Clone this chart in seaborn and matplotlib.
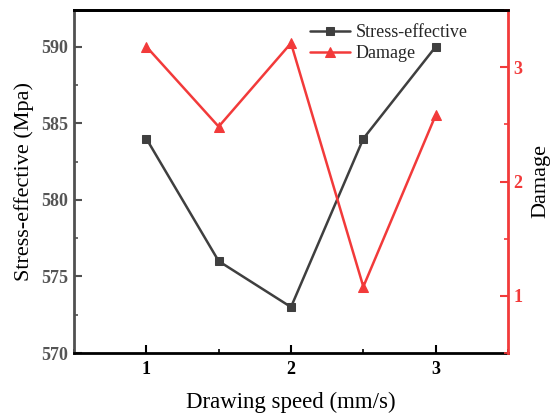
import matplotlib
matplotlib.use("Agg")
import matplotlib.pyplot as plt
from matplotlib.ticker import MultipleLocator
import seaborn as sns
import pandas as pd

speed = [1.0, 1.5, 2.0, 2.5, 3.0]
stress = [584, 576, 573, 584, 590]
damage = [3.18, 2.48, 3.21, 1.08, 2.58]

sns.set_theme(style="ticks")
plt.rcParams["font.family"] = ["Liberation Serif", "DejaVu Serif"]
plt.rcParams["xtick.direction"] = "in"
plt.rcParams["ytick.direction"] = "in"

GRAY = "#3f3f3f"
RED = "#f23a3a"

df = pd.DataFrame({"speed": speed, "stress": stress, "damage": damage})

fig = plt.figure(figsize=(5.5, 4.16), dpi=100)
ax = fig.add_axes([74 / 550, 1 - 353 / 416, (508 - 74) / 550, (353 - 10) / 416])
ax2 = ax.twinx()

sns.lineplot(data=df, x="speed", y="stress", ax=ax, color=GRAY, marker="s",
             markersize=6, markeredgecolor=GRAY, linewidth=1.8, label="Stress-effective",
             legend=False)
sns.lineplot(data=df, x="speed", y="damage", ax=ax2, color=RED, marker="^",
             markersize=7.5, markeredgecolor=RED, linewidth=1.8, label="Damage",
             legend=False)

ax.set_xlim(0.5, 3.5)
ax.set_ylim(570, 592.4)
ax2.set_ylim(0.5, 3.5)

ax.xaxis.set_major_locator(MultipleLocator(1))
ax.xaxis.set_minor_locator(MultipleLocator(0.5))
ax.yaxis.set_major_locator(MultipleLocator(5))
ax.yaxis.set_minor_locator(MultipleLocator(2.5))
ax2.yaxis.set_major_locator(MultipleLocator(1))
ax2.yaxis.set_minor_locator(MultipleLocator(0.5))

ax.set_xlabel("Drawing speed (mm/s)", fontsize=16.5, color="black", labelpad=10)
ax.set_ylabel("Stress-effective (Mpa)", fontsize=16, color="black", labelpad=5)
ax2.set_ylabel("Damage", fontsize=16, color="black", labelpad=6)

ax.tick_params(axis="x", which="major", length=6, width=1.5, colors="black",
               labelsize=13, pad=6)
ax.tick_params(axis="x", which="minor", length=3, width=1.2, colors="black")
ax.tick_params(axis="y", which="major", length=6, width=1.5, colors="#505050",
               labelsize=13, pad=4)
ax.tick_params(axis="y", which="minor", length=3, width=1.2, colors="#505050")
ax2.tick_params(axis="y", which="major", length=6, width=1.5, colors=RED,
                labelsize=13, pad=4)
ax2.tick_params(axis="y", which="minor", length=3, width=1.2, colors=RED)

for lbl in ax.get_xticklabels() + ax.get_yticklabels() + ax2.get_yticklabels():
    lbl.set_fontweight("bold")
for lbl in ax.get_yticklabels():
    lbl.set_color("#555555")

for side in ["top", "bottom"]:
    ax.spines[side].set_color("black")
    ax.spines[side].set_linewidth(2)
ax.spines["left"].set_color("#505050")
ax.spines["left"].set_linewidth(2)
ax2.spines["right"].set_color(RED)
ax2.spines["right"].set_linewidth(2)
ax2.spines["left"].set_visible(False)
ax2.spines["top"].set_color("black")
ax2.spines["top"].set_linewidth(2)
ax2.spines["bottom"].set_visible(False)
ax.spines["right"].set_visible(False)

h1, l1 = ax.get_legend_handles_labels()
h2, l2 = ax2.get_legend_handles_labels()
ax2.legend(h1 + h2, l1 + l2, loc="upper right", bbox_to_anchor=(0.94, 1.0),
           frameon=False, fontsize=13, handlelength=2.2, handletextpad=0.3,
           borderaxespad=0.4, labelspacing=0.2)

fig.savefig("out.png", dpi=100)
